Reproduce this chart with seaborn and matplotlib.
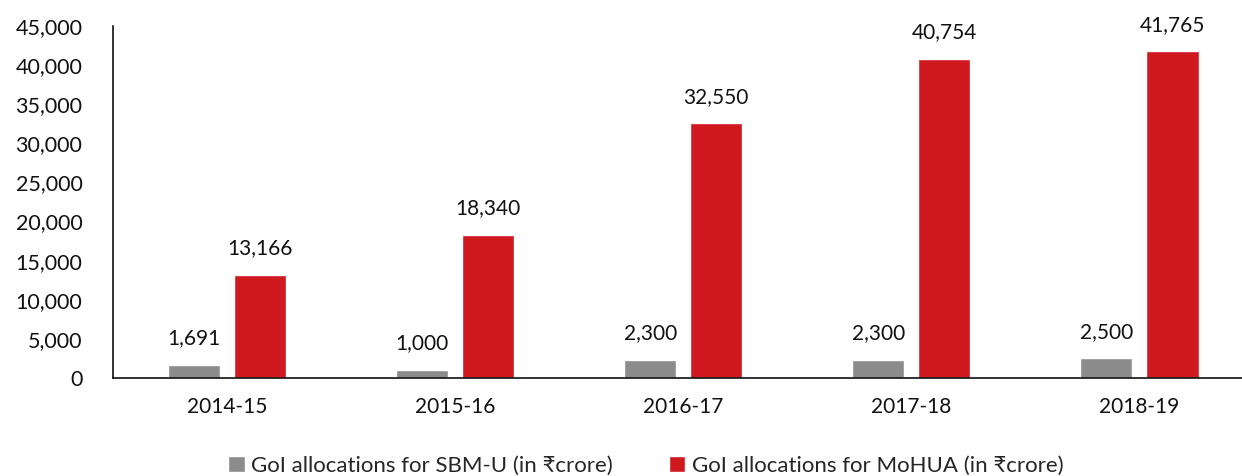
import matplotlib
matplotlib.use("Agg")
import matplotlib.pyplot as plt
import seaborn as sns
import pandas as pd
from matplotlib.patches import Patch

years = ["2014-15", "2015-16", "2016-17", "2017-18", "2018-19"]
sbm_u = [1691, 1000, 2300, 2300, 2500]
mohua = [13166, 18340, 32550, 40754, 41765]
series_names = ["GoI allocations for SBM-U (in \u20b9crore)",
                "GoI allocations for MoHUA (in \u20b9crore)"]
colors = ["#8c8c8c", "#d0191f"]

sns.set_theme(style="white")
plt.rcParams['font.family'] = ['Lato', 'DejaVu Sans']

df = pd.DataFrame({
    "year": years * 2,
    "value": sbm_u + mohua,
    "series": [series_names[0]] * len(years) + [series_names[1]] * len(years),
})

fig = plt.figure(figsize=(12.42, 4.76), dpi=100)
ax = fig.add_axes([113 / 1242, 1 - 378 / 476, 1 - 113 / 1242, (378 - 26) / 476])
sns.barplot(data=df, x="year", y="value", hue="series", palette=colors,
            width=0.58, gap=0.21, ax=ax, legend=False, saturation=1)

for cont in ax.containers:
    ax.bar_label(cont, labels=[f"{v:,.0f}" for v in cont.datavalues],
                 padding=12, fontsize=15, color="#111111")

ax.set_ylim(0, 45000)
ax.set_xlim(-0.5, 4.45)
ax.set_yticks(range(0, 45001, 5000))
ax.set_yticklabels([f"{v:,}" for v in range(0, 45001, 5000)])
ax.tick_params(axis="y", labelsize=15.5, length=0, pad=22, colors="#111111")
ax.tick_params(axis="x", labelsize=15, length=0, pad=14, colors="#111111")
ax.set_xlabel("")
ax.set_ylabel("")
for s in ["top", "right"]:
    ax.spines[s].set_visible(False)
for s in ["left", "bottom"]:
    ax.spines[s].set_color("#111111")
    ax.spines[s].set_linewidth(1.2)

handles = [Patch(facecolor=c, label=n) for c, n in zip(colors, series_names)]
fig.legend(handles=handles, loc="center", bbox_to_anchor=(0.52, 0.022),
           ncol=2, frameon=False, fontsize=16, handlelength=0.75,
           handleheight=0.75, handletextpad=0.3, columnspacing=2.5)

fig.savefig("out.png", dpi=100)
